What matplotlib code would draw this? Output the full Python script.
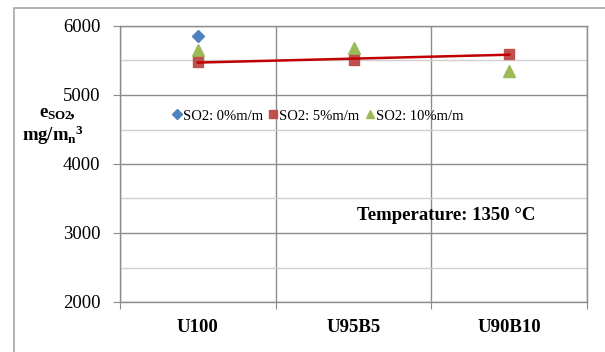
import numpy as np
import matplotlib.pyplot as plt
from matplotlib.patches import Rectangle

plt.rcParams['font.family'] = ['Liberation Serif', 'DejaVu Serif']
plt.rcParams['mathtext.fontset'] = 'custom'
plt.rcParams['mathtext.rm'] = 'Liberation Serif'
plt.rcParams['mathtext.bf'] = 'Liberation Serif:bold'
plt.rcParams['mathtext.it'] = 'Liberation Serif:italic'

# Data
fuels = ['U100', 'U95B5', 'U90B10']
so2_0 = [5855]                  # only U100 visible
so2_5 = [5480, 5507, 5594]
so2_10 = [5650, 5680, 5348]

BLUE = '#4F81BD'
RED = '#C0504D'
GREEN = '#9BBB59'
GRID = '#8C8C8C'

fig = plt.figure(figsize=(6.05, 3.52), dpi=100)
fig.patches.append(Rectangle((14 / 605, -0.1), 1.2, 1 - 8 / 352 + 0.1,
                             transform=fig.transFigure, fill=False,
                             edgecolor='#A6A6A6', linewidth=1.2))

ax = fig.add_axes([120 / 605, 1 - 302 / 352, 467 / 605, 276 / 352])
x = np.arange(len(fuels))

ax.plot(x[:len(so2_0)], so2_0, linestyle='none', marker='D', markersize=6,
        color=BLUE, label='SO2: 0%m/m', zorder=4)
ax.plot(x, so2_5, linestyle='none', marker='s', markersize=7.5,
        color=RED, label='SO2: 5%m/m', zorder=4)
ax.plot(x, so2_10, linestyle='none', marker='^', markersize=8,
        color=GREEN, label='SO2: 10%m/m', zorder=3)

# linear trend of the 5% series
k, b = np.polyfit(x, so2_5, 1)
ax.plot(x, k * x + b, color='#C00000', linewidth=1.8, zorder=5)

ax.set_xlim(-0.5, 2.5)
ax.set_ylim(2000, 6000)
ax.set_yticks(np.arange(2000, 6001, 1000))
ax.set_yticks(np.arange(2500, 6000, 1000), minor=True)
ax.set_xticks(np.arange(-0.5, 2.6, 1.0))
ax.set_xticklabels([])
ax.set_xticks(x, minor=True)
ax.set_xticklabels(fuels, minor=True, fontsize=13.5, fontweight='bold')
ax.tick_params(axis='x', which='minor', length=0, pad=12)
ax.tick_params(axis='x', which='major', length=5, color=GRID, direction='out')
ax.tick_params(axis='y', which='major', length=5, color=GRID, labelsize=13.5, pad=9)
ax.tick_params(axis='y', which='minor', length=0)

ax.grid(True, which='major', axis='both', color=GRID, linewidth=1.0)
ax.grid(True, which='minor', axis='y', color='#D0D0D0', linewidth=1.0)
ax.set_axisbelow(True)
for s in ax.spines.values():
    s.set_color(GRID)
    s.set_linewidth(1.0)

ax.text(0.698, 0.315, 'Temperature: 1350 °C', transform=ax.transAxes,
        ha='center', va='center', fontsize=13.5, fontweight='bold')

fig.text(57 / 605, 1 - 114 / 352, r'$\mathbf{e_{SO2}\!,}$', ha='center',
         va='center', fontsize=13.5)
fig.text(53 / 605, 1 - 135 / 352, r'$\mathbf{mg/m_{n}{}^{3}}$', ha='center',
         va='center', fontsize=13.5)

ax.legend(loc='center', bbox_to_anchor=(318 / 605, 1 - 116 / 352),
          bbox_transform=fig.transFigure, ncol=3, frameon=False,
          fontsize=10.5, handlelength=0.6, handletextpad=0.1,
          columnspacing=0.4, borderpad=0, markerscale=0.8)

fig.savefig('out.png', dpi=100)
